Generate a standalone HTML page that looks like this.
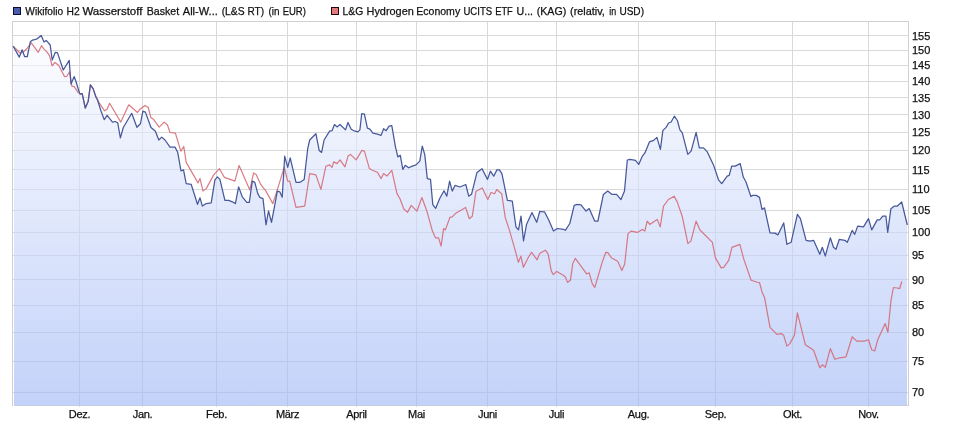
<!DOCTYPE html>
<html><head><meta charset="utf-8"><style>
html,body{margin:0;padding:0;background:#fff;}
svg{display:block;will-change:transform;}
text{font-family:"Liberation Sans",sans-serif;font-size:11px;fill:#111;stroke:#111;stroke-width:0.25px;}
</style></head><body>
<svg width="961" height="425" viewBox="0 0 961 425">
<defs><clipPath id="c"><rect x="14" y="21" width="893" height="385"/></clipPath><linearGradient id="g" x1="0" y1="21" x2="0" y2="406" gradientUnits="userSpaceOnUse">
<stop offset="0" stop-color="#ffffff"/><stop offset="1" stop-color="#9eb6f6"/></linearGradient></defs>
<rect width="961" height="425" fill="#fff"/>
<g fill="#d9d9d9">
<rect x="12" y="35" width="896" height="1"/>
<rect x="12" y="50" width="896" height="1"/>
<rect x="12" y="65" width="896" height="1"/>
<rect x="12" y="81" width="896" height="1"/>
<rect x="12" y="97" width="896" height="1"/>
<rect x="12" y="114" width="896" height="1"/>
<rect x="12" y="132" width="896" height="1"/>
<rect x="12" y="150" width="896" height="1"/>
<rect x="12" y="169" width="896" height="1"/>
<rect x="12" y="189" width="896" height="1"/>
<rect x="12" y="210" width="896" height="1"/>
<rect x="12" y="232" width="896" height="1"/>
<rect x="12" y="255" width="896" height="1"/>
<rect x="12" y="279" width="896" height="1"/>
<rect x="12" y="305" width="896" height="1"/>
<rect x="12" y="332" width="896" height="1"/>
<rect x="12" y="361" width="896" height="1"/>
<rect x="12" y="392" width="896" height="1"/>
<rect x="79" y="21" width="1" height="386"/>
<rect x="142" y="21" width="1" height="386"/>
<rect x="216" y="21" width="1" height="386"/>
<rect x="287" y="21" width="1" height="386"/>
<rect x="356" y="21" width="1" height="386"/>
<rect x="416" y="21" width="1" height="386"/>
<rect x="487" y="21" width="1" height="386"/>
<rect x="556" y="21" width="1" height="386"/>
<rect x="638" y="21" width="1" height="386"/>
<rect x="715" y="21" width="1" height="386"/>
<rect x="792" y="21" width="1" height="386"/>
<rect x="868" y="21" width="1" height="386"/>
</g>
<path d="M13.2,406 L13.2,46.2 19.3,57.1 22.1,49.8 24.6,56.5 27.3,56.5 30.4,41.7 32.3,40.2 34.6,39.6 37.1,38.8 41.2,35.4 44.0,42.1 46.2,40.4 50.2,45.0 52.2,60.0 55.2,52.4 57.4,52.6 63.3,70.0 69.2,60.4 71.0,84.0 74.2,76.6 75.9,81.2 79.2,92.0 80.1,94.1 82.2,93.7 85.3,108.0 88.2,101.2 90.4,84.8 93.1,88.6 96.0,97.2 97.5,100.0 101.0,111.0 104.2,119.6 107.1,115.4 112.5,122.1 115.2,121.5 117.7,122.8 120.4,137.9 123.3,127.5 131.7,113.3 136.9,127.3 140.4,123.8 142.9,111.2 145.4,112.1 151.0,127.5 155.4,131.2 158.8,140.0 161.7,137.1 165.0,140.0 170.0,147.1 175.0,147.1 177.7,152.3 181.0,171.0 183.5,169.8 186.2,183.6 191.2,184.4 193.7,192.3 197.5,204.3 200.0,197.8 202.4,206.1 206.2,203.6 211.2,202.8 214.9,179.9 217.4,176.9 219.9,179.4 224.9,200.3 228.6,200.3 232.4,201.8 235.4,203.6 238.6,186.9 242.3,196.8 246.8,202.3 249.3,202.3 252.3,181.1 254.8,182.4 257.8,193.6 259.8,197.3 263.0,198.6 266.0,224.8 268.5,211.0 271.5,222.3 274.8,204.8 277.3,191.1 279.8,191.8 282.2,197.3 284.7,156.2 287.7,167.4 290.2,157.9 296.0,182.4 299.7,182.4 304.2,179.4 307.7,148.7 309.7,140.0 315.9,133.7 319.2,150.4 321.6,152.4 324.1,140.0 329.6,131.2 332.0,130.7 334.5,124.5 337.0,126.9 340.0,124.5 345.5,129.9 348.0,122.5 351.2,129.2 354.9,131.2 357.9,131.9 359.9,129.9 361.7,113.7 364.4,114.2 367.4,128.2 369.9,129.2 372.9,133.2 377.4,134.2 381.1,135.4 383.6,128.7 386.1,130.7 389.1,126.2 391.8,125.7 395.3,146.1 397.8,156.9 400.3,155.4 402.8,169.3 405.3,165.3 408.6,167.8 412.3,166.1 416.0,164.9 419.8,161.1 422.3,146.1 424.8,154.9 427.3,178.6 430.5,179.3 432.8,204.6 435.7,208.3 439.7,198.5 444.0,190.8 446.8,196.1 449.6,181.2 452.3,191.1 455.0,185.4 460.0,187.0 465.8,184.5 468.7,196.1 471.5,194.3 477.0,172.4 482.0,168.7 487.5,179.4 490.4,171.2 493.7,176.2 496.9,169.9 499.4,169.9 501.9,173.7 507.4,200.3 512.3,201.1 516.0,227.0 518.5,229.8 521.0,216.1 523.5,241.0 526.6,224.2 532.0,212.6 536.7,222.3 539.7,211.5 544.5,211.8 548.6,219.8 553.5,231.0 557.3,228.5 563.5,229.3 565.3,230.3 569.8,223.5 574.2,205.3 577.2,204.3 581.0,204.8 586.0,211.1 589.2,208.6 594.7,221.0 597.9,221.0 603.4,194.4 607.7,191.1 612.1,194.4 616.6,194.4 621.0,199.6 624.5,191.0 627.3,160.0 630.0,159.4 635.5,160.4 638.7,164.4 642.4,156.1 644.9,152.9 649.4,141.9 653.7,140.4 656.9,137.4 660.4,149.4 662.9,130.4 666.1,127.4 668.6,123.0 671.1,122.0 674.4,116.2 677.4,120.5 679.9,129.9 682.3,132.9 687.8,154.4 691.1,151.1 696.1,132.4 699.3,147.9 703.5,147.9 707.3,151.9 713.5,164.9 718.5,179.8 721.7,183.6 727.2,176.1 729.2,175.3 731.7,166.1 735.2,166.1 740.2,163.6 743.4,177.3 745.9,181.8 750.9,196.5 752.5,195.4 756.2,195.4 759.5,197.4 762.0,209.4 764.5,207.9 770.0,232.9 774.9,233.1 777.9,234.9 783.7,222.9 786.9,244.3 791.1,242.3 797.4,214.4 800.4,218.6 806.1,240.3 809.9,241.1 813.6,240.3 819.8,254.3 822.3,247.3 825.3,256.0 830.3,237.8 833.5,247.3 836.0,249.3 839.3,239.3 844.8,240.3 847.3,242.3 852.2,230.4 854.7,234.4 857.7,226.1 863.5,226.9 868.5,218.6 871.7,229.9 877.2,219.9 879.7,219.9 882.7,216.1 885.9,216.1 887.7,232.4 890.9,208.7 894.1,206.2 897.1,206.2 901.7,202.0 907.3,225.0 L907.3,406 Z" fill="url(#g)" fill-opacity="0.62" clip-path="url(#c)"/>
<g fill="#d0d0d0"><rect x="14" y="405" width="894" height="1" fill="#c4cce2"/><rect x="12" y="21" width="897" height="1"/><rect x="12" y="21" width="1" height="385"/><rect x="908" y="21" width="1" height="385"/></g>
<polyline points="13.2,46.2 17.5,50.5 20.5,53.5 24.0,51.5 27.0,48.5 31.2,42.9 38.3,52.3 41.5,45.7 43.8,48.8 47.1,52.1 49.6,55.8 52.1,65.8 55.0,62.5 58.8,65.4 64.6,76.7 66.7,76.5 69.6,71.8 71.8,86.2 74.2,86.6 78.0,92.4 80.1,94.1 82.2,93.7 85.3,108.0 88.2,101.2 90.4,84.8 93.1,88.6 96.0,96.6 99.7,103.7 104.6,110.8 107.1,109.2 109.6,103.3 120.8,122.1 128.8,104.8 137.5,112.5 140.0,109.2 145.0,105.4 148.3,107.5 150.8,117.5 153.3,119.2 159.2,127.1 164.2,122.1 167.5,125.0 170.0,132.5 175.4,133.2 180.8,151.2 183.8,146.5 186.2,162.4 191.2,171.1 198.0,182.9 200.0,178.6 203.0,191.1 206.2,188.6 213.7,174.9 219.4,168.7 224.4,177.4 234.9,181.1 239.1,165.4 249.8,189.9 253.6,172.9 256.1,174.4 261.0,184.9 266.0,191.1 272.8,203.6 277.3,189.9 284.2,167.4 287.7,181.1 289.7,181.1 296.0,207.3 304.7,206.1 309.7,173.6 315.9,174.9 320.9,189.4 325.9,166.2 329.6,164.9 332.1,167.4 333.7,161.9 337.0,163.6 340.0,159.9 345.0,166.8 348.0,156.1 350.4,154.4 356.2,159.9 361.9,150.4 364.4,151.1 369.4,168.6 372.4,170.3 377.4,172.3 381.1,178.6 383.6,173.6 386.9,176.1 391.8,170.3 397.0,193.6 400.0,198.7 403.7,208.7 407.5,212.4 411.2,205.4 416.9,211.2 421.9,197.5 426.9,211.2 432.4,231.1 435.6,237.9 438.6,237.9 441.1,246.1 443.6,228.6 445.4,229.9 449.9,217.4 452.3,216.9 456.1,212.9 462.3,209.4 465.6,207.4 469.3,218.7 472.3,216.2 476.0,191.2 482.3,188.0 487.8,199.5 491.0,192.5 494.7,193.7 496.7,189.5 501.7,193.7 505.2,217.4 509.7,231.1 514.7,248.6 518.4,262.3 520.9,256.1 523.4,267.3 528.4,257.3 531.6,252.3 537.1,259.8 539.6,253.6 545.4,250.2 548.2,254.1 551.3,271.1 553.4,274.6 556.7,271.4 563.3,275.3 565.4,277.0 567.5,282.4 570.4,280.3 572.8,263.3 575.3,258.4 586.6,273.9 589.2,272.8 592.3,283.8 594.8,287.3 602.1,262.6 605.7,252.4 607.8,252.7 611.3,257.7 617.7,261.2 621.9,270.4 624.7,264.0 628.0,233.6 631.0,231.1 637.3,232.4 642.3,229.4 644.8,231.1 647.2,221.1 649.7,224.4 657.2,219.4 660.2,226.9 663.5,206.2 668.4,199.5 674.2,196.2 677.2,201.9 682.2,216.2 687.9,243.6 690.9,241.1 696.1,221.2 700.0,230.0 705.0,235.0 712.4,242.4 715.4,257.9 721.2,267.9 723.7,267.4 728.7,260.4 731.9,247.4 739.9,244.4 743.6,258.6 751.1,280.3 757.3,282.3 759.5,282.5 762.0,291.9 764.5,297.4 770.0,327.4 776.9,334.3 781.2,333.6 783.7,335.3 786.9,346.1 789.9,343.6 794.4,335.3 797.4,312.9 805.4,344.8 813.6,350.3 819.8,367.8 822.3,364.8 825.3,367.3 830.3,348.6 834.8,359.3 839.8,357.8 846.0,356.8 852.2,336.8 856.7,341.1 864.2,341.1 868.5,339.8 871.7,349.8 874.7,351.0 877.7,339.8 885.2,323.6 887.9,332.3 890.9,301.2 893.4,287.5 897.1,288.0 899.6,288.7 901.8,281.5" fill="none" stroke="#d4646e" stroke-opacity="0.85" stroke-width="1.2" stroke-linejoin="round"/>
<polyline points="13.2,46.2 19.3,57.1 22.1,49.8 24.6,56.5 27.3,56.5 30.4,41.7 32.3,40.2 34.6,39.6 37.1,38.8 41.2,35.4 44.0,42.1 46.2,40.4 50.2,45.0 52.2,60.0 55.2,52.4 57.4,52.6 63.3,70.0 69.2,60.4 71.0,84.0 74.2,76.6 75.9,81.2 79.2,92.0 80.1,94.1 82.2,93.7 85.3,108.0 88.2,101.2 90.4,84.8 93.1,88.6 96.0,97.2 97.5,100.0 101.0,111.0 104.2,119.6 107.1,115.4 112.5,122.1 115.2,121.5 117.7,122.8 120.4,137.9 123.3,127.5 131.7,113.3 136.9,127.3 140.4,123.8 142.9,111.2 145.4,112.1 151.0,127.5 155.4,131.2 158.8,140.0 161.7,137.1 165.0,140.0 170.0,147.1 175.0,147.1 177.7,152.3 181.0,171.0 183.5,169.8 186.2,183.6 191.2,184.4 193.7,192.3 197.5,204.3 200.0,197.8 202.4,206.1 206.2,203.6 211.2,202.8 214.9,179.9 217.4,176.9 219.9,179.4 224.9,200.3 228.6,200.3 232.4,201.8 235.4,203.6 238.6,186.9 242.3,196.8 246.8,202.3 249.3,202.3 252.3,181.1 254.8,182.4 257.8,193.6 259.8,197.3 263.0,198.6 266.0,224.8 268.5,211.0 271.5,222.3 274.8,204.8 277.3,191.1 279.8,191.8 282.2,197.3 284.7,156.2 287.7,167.4 290.2,157.9 296.0,182.4 299.7,182.4 304.2,179.4 307.7,148.7 309.7,140.0 315.9,133.7 319.2,150.4 321.6,152.4 324.1,140.0 329.6,131.2 332.0,130.7 334.5,124.5 337.0,126.9 340.0,124.5 345.5,129.9 348.0,122.5 351.2,129.2 354.9,131.2 357.9,131.9 359.9,129.9 361.7,113.7 364.4,114.2 367.4,128.2 369.9,129.2 372.9,133.2 377.4,134.2 381.1,135.4 383.6,128.7 386.1,130.7 389.1,126.2 391.8,125.7 395.3,146.1 397.8,156.9 400.3,155.4 402.8,169.3 405.3,165.3 408.6,167.8 412.3,166.1 416.0,164.9 419.8,161.1 422.3,146.1 424.8,154.9 427.3,178.6 430.5,179.3 432.8,204.6 435.7,208.3 439.7,198.5 444.0,190.8 446.8,196.1 449.6,181.2 452.3,191.1 455.0,185.4 460.0,187.0 465.8,184.5 468.7,196.1 471.5,194.3 477.0,172.4 482.0,168.7 487.5,179.4 490.4,171.2 493.7,176.2 496.9,169.9 499.4,169.9 501.9,173.7 507.4,200.3 512.3,201.1 516.0,227.0 518.5,229.8 521.0,216.1 523.5,241.0 526.6,224.2 532.0,212.6 536.7,222.3 539.7,211.5 544.5,211.8 548.6,219.8 553.5,231.0 557.3,228.5 563.5,229.3 565.3,230.3 569.8,223.5 574.2,205.3 577.2,204.3 581.0,204.8 586.0,211.1 589.2,208.6 594.7,221.0 597.9,221.0 603.4,194.4 607.7,191.1 612.1,194.4 616.6,194.4 621.0,199.6 624.5,191.0 627.3,160.0 630.0,159.4 635.5,160.4 638.7,164.4 642.4,156.1 644.9,152.9 649.4,141.9 653.7,140.4 656.9,137.4 660.4,149.4 662.9,130.4 666.1,127.4 668.6,123.0 671.1,122.0 674.4,116.2 677.4,120.5 679.9,129.9 682.3,132.9 687.8,154.4 691.1,151.1 696.1,132.4 699.3,147.9 703.5,147.9 707.3,151.9 713.5,164.9 718.5,179.8 721.7,183.6 727.2,176.1 729.2,175.3 731.7,166.1 735.2,166.1 740.2,163.6 743.4,177.3 745.9,181.8 750.9,196.5 752.5,195.4 756.2,195.4 759.5,197.4 762.0,209.4 764.5,207.9 770.0,232.9 774.9,233.1 777.9,234.9 783.7,222.9 786.9,244.3 791.1,242.3 797.4,214.4 800.4,218.6 806.1,240.3 809.9,241.1 813.6,240.3 819.8,254.3 822.3,247.3 825.3,256.0 830.3,237.8 833.5,247.3 836.0,249.3 839.3,239.3 844.8,240.3 847.3,242.3 852.2,230.4 854.7,234.4 857.7,226.1 863.5,226.9 868.5,218.6 871.7,229.9 877.2,219.9 879.7,219.9 882.7,216.1 885.9,216.1 887.7,232.4 890.9,208.7 894.1,206.2 897.1,206.2 901.7,202.0 907.3,225.0" fill="none" stroke="#46589a" stroke-width="1.25" stroke-linejoin="round"/>
<rect x="13.5" y="7.5" width="7" height="7" fill="#4b5cab" stroke="#0d0d33" stroke-width="1"/>
<text x="25.30" y="15" textLength="37.85" lengthAdjust="spacingAndGlyphs">Wikifolio</text>
<text x="66.52" y="15" textLength="13.14" lengthAdjust="spacingAndGlyphs">H2</text>
<text x="82.40" y="15" textLength="60.05" lengthAdjust="spacingAndGlyphs">Wasserstoff</text>
<text x="146.74" y="15" textLength="32.42" lengthAdjust="spacingAndGlyphs">Basket</text>
<text x="182.80" y="15" textLength="34.99" lengthAdjust="spacingAndGlyphs">All-W...</text>
<text x="221.70" y="15" textLength="22.94" lengthAdjust="spacingAndGlyphs">(L&amp;S</text>
<text x="247.49" y="15" textLength="16.54" lengthAdjust="spacingAndGlyphs">RT)</text>
<text x="268.50" y="15" textLength="11.01" lengthAdjust="spacingAndGlyphs">(in</text>
<text x="282.64" y="15" textLength="23.22" lengthAdjust="spacingAndGlyphs">EUR)</text>
<rect x="331.5" y="7.5" width="7" height="7" fill="#e07a7c" stroke="#220808" stroke-width="1"/>
<text x="342.56" y="15" textLength="20.66" lengthAdjust="spacingAndGlyphs">L&amp;G</text>
<text x="366.51" y="15" textLength="47.29" lengthAdjust="spacingAndGlyphs">Hydrogen</text>
<text x="416.24" y="15" textLength="43.92" lengthAdjust="spacingAndGlyphs">Economy</text>
<text x="463.43" y="15" textLength="28.67" lengthAdjust="spacingAndGlyphs">UCITS</text>
<text x="495.26" y="15" textLength="17.46" lengthAdjust="spacingAndGlyphs">ETF</text>
<text x="516.53" y="15" textLength="16.56" lengthAdjust="spacingAndGlyphs">U...</text>
<text x="536.70" y="15" textLength="29.54" lengthAdjust="spacingAndGlyphs">(KAG)</text>
<text x="570.10" y="15" textLength="34.75" lengthAdjust="spacingAndGlyphs">(relativ,</text>
<text x="609.30" y="15" textLength="6.96" lengthAdjust="spacingAndGlyphs">in</text>
<text x="619.38" y="15" textLength="24.61" lengthAdjust="spacingAndGlyphs">USD)</text>
<text x="912" y="39.5">155</text>
<text x="912" y="54.2">150</text>
<text x="912" y="69.4">145</text>
<text x="912" y="85.2">140</text>
<text x="912" y="101.5">135</text>
<text x="912" y="118.5">130</text>
<text x="912" y="136.1">125</text>
<text x="912" y="154.4">120</text>
<text x="912" y="173.5">115</text>
<text x="912" y="193.4">110</text>
<text x="912" y="214.3">105</text>
<text x="912" y="236.2">100</text>
<text x="912" y="259.3">95</text>
<text x="912" y="283.5">90</text>
<text x="912" y="309.2">85</text>
<text x="912" y="336.4">80</text>
<text x="912" y="365.4">75</text>
<text x="912" y="396.3">70</text>
<text x="79.5" y="417.6" text-anchor="middle" letter-spacing="-0.3">Dez.</text>
<text x="142.5" y="417.6" text-anchor="middle" letter-spacing="-0.3">Jan.</text>
<text x="216.5" y="417.6" text-anchor="middle" letter-spacing="-0.3">Feb.</text>
<text x="287.5" y="417.6" text-anchor="middle" letter-spacing="-0.3">März</text>
<text x="356.5" y="417.6" text-anchor="middle" letter-spacing="-0.3">April</text>
<text x="416.5" y="417.6" text-anchor="middle" letter-spacing="-0.3">Mai</text>
<text x="487.5" y="417.6" text-anchor="middle" letter-spacing="-0.3">Juni</text>
<text x="556.5" y="417.6" text-anchor="middle" letter-spacing="-0.3">Juli</text>
<text x="638.5" y="417.6" text-anchor="middle" letter-spacing="-0.3">Aug.</text>
<text x="715.5" y="417.6" text-anchor="middle" letter-spacing="-0.3">Sep.</text>
<text x="792.5" y="417.6" text-anchor="middle" letter-spacing="-0.3">Okt.</text>
<text x="868.5" y="417.6" text-anchor="middle" letter-spacing="-0.3">Nov.</text>
</svg>
</body></html>
